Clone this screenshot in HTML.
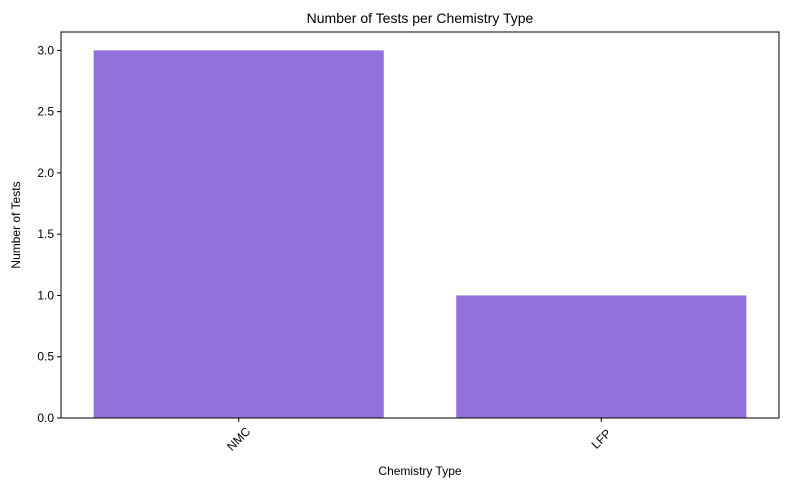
<!DOCTYPE html>
<html><head><meta charset="utf-8"><style>
body{margin:0;background:#fff;font-family:"Liberation Sans","DejaVu Sans",sans-serif;}
</style></head><body>
<svg width="789" height="490" xmlns="http://www.w3.org/2000/svg">
<text x="420" y="23" font-size="14" text-anchor="middle">Number of Tests per Chemistry Type</text>
<g id="plot"></g>
<text x="420" y="475" font-size="12" text-anchor="middle">Chemistry Type</text>
<text transform="translate(20,225) rotate(-90)" font-size="12" text-anchor="middle">Number of Tests</text>
</svg>
<script>
const categories=["NMC","LFP"];
const values=[3,1];
const yTicks=[0,0.5,1,1.5,2,2.5,3];
const L=61,R=779,T=32,B=418;
const ymax=Math.max(...values)*1.05;
const y=v=>B-(v/ymax)*(B-T);
const xmin=-0.49,xmax=categories.length-1+0.49;
const x=i=>L+(i-xmin)/(xmax-xmin)*(R-L);
const ns="http://www.w3.org/2000/svg";
const g=document.getElementById('plot');
function mk(t,a){const e=document.createElementNS(ns,t);for(const k in a)e.setAttribute(k,a[k]);g.appendChild(e);return e;}
values.forEach((v,i)=>{
 const x0=x(i-0.4),x1=x(i+0.4);
 const r=mk('rect',{x:x0,y:y(v),width:x1-x0,height:B-y(v),fill:'#9370DB'});
 
 
 mk('line',{x1:x(i),x2:x(i),y1:B,y2:B+4,stroke:'#000'});
 const t=mk('text',{x:0,y:4,'font-size':12,'text-anchor':'middle',transform:`translate(${x(i)},${B+21}) rotate(-45)`});
 t.textContent=categories[i];
 
 
});
yTicks.forEach(v=>{
 mk('line',{x1:L-4,x2:L,y1:y(v),y2:y(v),stroke:'#000'});
 const t=mk('text',{x:L-7,y:y(v)+4,'font-size':12,'text-anchor':'end'});
 t.textContent=v.toFixed(1);
 
 
});
const f=mk('rect',{x:L,y:T,width:R-L,height:B-T,fill:'none',stroke:'#000','stroke-width':1});


</script>
</body></html>
